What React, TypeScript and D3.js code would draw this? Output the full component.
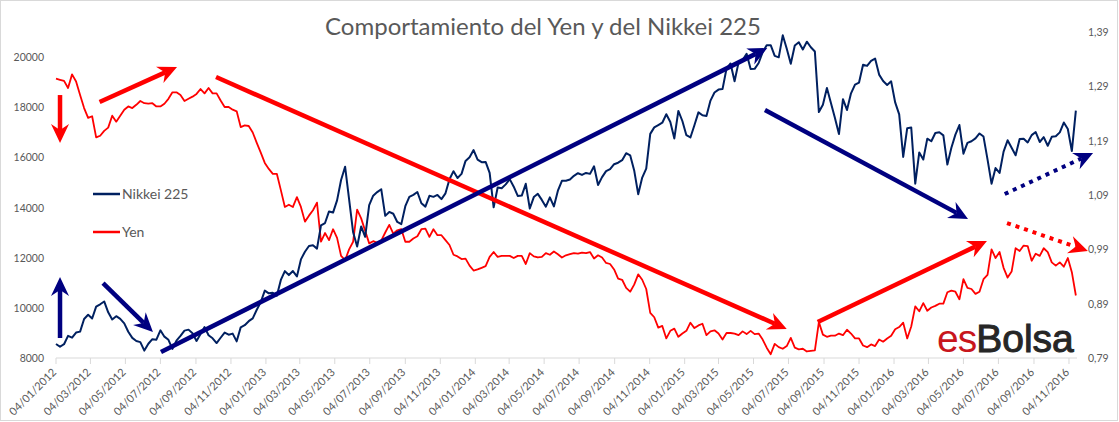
import * as d3 from 'd3';

const W = 1119;
const H = 422;

// weekly closes (Nikkei 225, left axis)
const nikkei2012 = [8560, 8448, 8550, 8883, 8809, 9015, 9052, 9554, 9723, 9576, 10050, 10141, 10255,
  9820, 9538, 9667, 9562, 9380, 9045, 8801, 8680, 8633, 8295, 8568, 8752, 8730, 9104, 8851, 8726,
  8365, 8695, 8881, 9092, 9131, 8984, 8680, 8959, 9232, 8906, 8786, 8596, 8807, 9014, 8928, 8972,
  8664, 9222, 9308, 9468, 9581, 9923, 10230];
const nikkei2013 = [10688, 10578, 10600, 10486, 11113, 11463, 11307, 11468, 11254, 11932, 12239,
  12468, 12493, 12362, 13288, 13382, 13844, 13799, 14285, 15096, 15627, 14326, 13014, 12445, 13245,
  12834, 14100, 14472, 14615, 14731, 13668, 13825, 13752, 13424, 13338, 14053, 14425, 14505, 14620,
  14170, 14037, 14467, 14426, 14502, 14337, 14567, 15126, 15450, 15177, 15341, 15859, 16009];
const nikkei2014 = [16291, 15908, 15808, 15820, 15383, 14008, 14800, 14766, 14924, 15134, 14830,
  14462, 14477, 14946, 13960, 14417, 14546, 14304, 14033, 14405, 14043, 14670, 15068, 15069, 15115,
  15266, 15369, 15302, 15379, 15343, 15646, 14900, 15213, 15454, 15534, 15728, 15788, 15888, 16167,
  16082, 15479, 14532, 15195, 15554, 16937, 17197, 17288, 17383, 17720, 17412, 16755, 17854, 17451];
const nikkei2015 = [16885, 16795, 17280, 17796, 17678, 17652, 18264, 18585, 18704, 18723, 19544,
  19746, 19034, 19790, 19886, 20133, 19520, 19531, 19764, 20196, 20473, 20473, 20046, 19990, 20868,
  20329, 19737, 20463, 20593, 20303, 20614, 20392, 20222, 17806, 18095, 18770, 18171, 17571, 16930,
  18322, 17891, 18554, 18903, 18983, 19697, 19649, 19847, 19939, 19301, 19049, 18886, 19033];
const nikkei2016 = [18191, 17715, 16017, 17163, 17191, 14952, 16196, 15915, 16746, 16642, 16974,
  17000, 16879, 15715, 16381, 16906, 17290, 16147, 16579, 16644, 16757, 16955, 16830, 15920, 14952,
  15575, 15379, 16231, 16681, 16383, 16083, 16735, 16745, 16597, 16887, 17012, 16614, 16807, 16465,
  16819, 16840, 16998, 17391, 17134, 16251, 17862];

// weekly Yen values (right axis)
const yen2012 = [1.304, 1.302, 1.3, 1.287, 1.312, 1.299, 1.274, 1.25, 1.232, 1.235, 1.196, 1.199,
  1.208, 1.214, 1.236, 1.225, 1.236, 1.247, 1.253, 1.25, 1.256, 1.263, 1.259, 1.258, 1.259, 1.253,
  1.253, 1.258, 1.267, 1.279, 1.279, 1.274, 1.263, 1.267, 1.271, 1.276, 1.285, 1.277, 1.287, 1.277,
  1.277, 1.264, 1.252, 1.252, 1.247, 1.244, 1.215, 1.218, 1.217, 1.205, 1.186, 1.168];
const yen2013 = [1.149, 1.138, 1.129, 1.129, 1.099, 1.068, 1.072, 1.068, 1.086, 1.068, 1.041, 1.052,
  1.062, 1.076, 1.004, 1.02, 1.007, 1.027, 1.011, 0.978, 0.97, 0.99, 1.004, 1.063, 1.047, 1.024,
  1.001, 1.005, 1.002, 1.006, 1.021, 1.035, 1.019, 1.025, 1.027, 1.004, 1.004, 1.01, 1.014, 1.027,
  1.028, 1.013, 1.027, 1.016, 1.016, 1.007, 0.998, 0.98, 0.977, 0.972, 0.973, 0.96];
const yen2014 = [0.951, 0.953, 0.956, 0.959, 0.976, 0.985, 0.976, 0.978, 0.978, 0.978, 0.974, 0.978,
  0.978, 0.963, 0.983, 0.977, 0.975, 0.976, 0.983, 0.98, 0.986, 0.981, 0.975, 0.979, 0.981, 0.983,
  0.982, 0.984, 0.983, 0.985, 0.973, 0.979, 0.975, 0.965, 0.963, 0.953, 0.936, 0.934, 0.919, 0.912,
  0.925, 0.944, 0.934, 0.917, 0.873, 0.865, 0.846, 0.849, 0.826, 0.84, 0.844, 0.829, 0.835];
const yen2015 = [0.84, 0.855, 0.845, 0.85, 0.853, 0.832, 0.839, 0.841, 0.835, 0.824, 0.836, 0.836,
  0.835, 0.832, 0.839, 0.834, 0.84, 0.834, 0.835, 0.824, 0.809, 0.797, 0.816, 0.81, 0.807, 0.812,
  0.827, 0.809, 0.806, 0.807, 0.802, 0.803, 0.804, 0.856, 0.833, 0.829, 0.831, 0.831, 0.835, 0.832,
  0.842, 0.835, 0.826, 0.826, 0.813, 0.81, 0.815, 0.812, 0.824, 0.82, 0.826, 0.831];
const yen2016 = [0.843, 0.847, 0.855, 0.826, 0.848, 0.885, 0.876, 0.891, 0.877, 0.883, 0.886, 0.89,
  0.89, 0.911, 0.914, 0.912, 0.898, 0.935, 0.919, 0.917, 0.908, 0.912, 0.935, 0.943, 0.99, 0.974,
  0.985, 0.956, 0.938, 0.949, 0.992, 0.987, 0.997, 0.996, 0.969, 0.982, 0.978, 0.992, 0.985, 0.966,
  0.96, 0.966, 0.958, 0.974, 0.948, 0.905];

const nikkei = [...nikkei2012, ...nikkei2013, ...nikkei2014, ...nikkei2015, ...nikkei2016];
const yen = [...yen2012, ...yen2013, ...yen2014, ...yen2015, ...yen2016];

const xTickLabels = [
  '04/01/2012', '04/03/2012', '04/05/2012', '04/07/2012', '04/09/2012', '04/11/2012',
  '04/01/2013', '04/03/2013', '04/05/2013', '04/07/2013', '04/09/2013', '04/11/2013',
  '04/01/2014', '04/03/2014', '04/05/2014', '04/07/2014', '04/09/2014', '04/11/2014',
  '04/01/2015', '04/03/2015', '04/05/2015', '04/07/2015', '04/09/2015', '04/11/2015',
  '04/01/2016', '04/03/2016', '04/05/2016', '04/07/2016', '04/09/2016', '04/11/2016',
];
const leftTicks = [8000, 10000, 12000, 14000, 16000, 18000, 20000];
const rightTicks = [0.79, 0.89, 0.99, 1.09, 1.19, 1.29, 1.39];

// hand-drawn arrows, in (date, Nikkei) coordinates
const arrows = [
  { from: ['2012-01-11', 18486], to: ['2012-01-11', 16572], color: '#ff0000', dotted: false },
  { from: ['2012-03-20', 18207], to: ['2012-08-02', 19602], color: '#ff0000', dotted: false },
  { from: ['2012-10-09', 19203], to: ['2015-07-01', 9156], color: '#ff0000', dotted: false },
  { from: ['2012-01-11', 8797], to: ['2012-01-11', 11229], color: '#000080', dotted: false },
  { from: ['2012-03-26', 10990], to: ['2012-06-21', 9037], color: '#000080', dotted: false },
  { from: ['2012-07-05', 8239], to: ['2015-05-28', 20360], color: '#000080', dotted: false },
  { from: ['2015-05-24', 17888], to: ['2016-05-12', 13542], color: '#000080', dotted: false },
  { from: ['2016-07-15', 14539], to: ['2016-12-16', 16173], color: '#000080', dotted: true },
  { from: ['2016-07-19', 13382], to: ['2016-12-07', 12266], color: '#ff0000', dotted: true },
  { from: ['2015-08-24', 9435], to: ['2016-06-14', 12665], color: '#ff0000', dotted: false },
] as { from: [string, number]; to: [string, number]; color: string; dotted: boolean }[];

const parse = d3.timeParse('%Y-%m-%d');
const parseTick = d3.timeParse('%d/%m/%Y');
const firstWeek = parse('2012-01-04')!;
const weeks = nikkei.map((_, i) => d3.timeDay.offset(firstWeek, 7 * i));

const x = d3.scaleTime().domain([parse('2012-01-04')!, parse('2016-11-18')!]).range([56, 1077]);
const yL = d3.scaleLinear().domain([8000, 21000]).range([358, 32]);
const yR = d3.scaleLinear().domain([0.79, 1.39]).range([358, 32]);

const nikkeiLine = d3.line<number>().x((_, i) => x(weeks[i])).y(d => yL(d));
const yenLine = d3.line<number>().x((_, i) => x(weeks[i])).y(d => yR(d));

const grey = '#595959';
const font = 'Lato, "Liberation Sans", sans-serif';
const fmtR = (v: number) => d3.format('.2f')(v).replace('.', ',');

function Arrow({ a }: { a: typeof arrows[number] }) {
  const x1 = x(parse(a.from[0])!), y1 = yL(a.from[1]);
  const x2 = x(parse(a.to[0])!), y2 = yL(a.to[1]);
  const ang = Math.atan2(y2 - y1, x2 - x1);
  const ux = Math.cos(ang), uy = Math.sin(ang);
  const px = -uy, py = ux;
  const len = 19, half = 9, notch = 13;
  const bx = x2 - ux * len, by = y2 - uy * len;
  const nx = x2 - ux * notch, ny = y2 - uy * notch;
  const head = `M${x2},${y2}L${bx + px * half},${by + py * half}L${nx},${ny}L${bx - px * half},${by - py * half}Z`;
  return (
    <g>
      <line x1={x1} y1={y1} x2={nx} y2={ny} stroke={a.color}
        strokeWidth={a.dotted ? 4 : 4.5} strokeDasharray={a.dotted ? '4 5' : undefined} />
      <path d={head} fill={a.color} />
    </g>
  );
}

export default function App() {
  return (
    <svg width={W} height={H} style={{ position: 'absolute', left: 0, top: 0, background: '#fff' }}>
      <rect x={0.5} y={0.5} width={W - 2} height={H - 2} fill="#fff" stroke="#d9d9d9" />
      <text x={543} y={35} textAnchor="middle" fontFamily={font} fontSize={24} fill={grey}>
        Comportamiento del Yen y del Nikkei 225
      </text>

      {/* x axis */}
      <line x1={x.range()[0]} x2={x.range()[1]} y1={358} y2={358} stroke="#d9d9d9" />
      {xTickLabels.map(t => {
        const tx = x(parseTick(t)!);
        return (
          <g key={t}>
            <line x1={tx} x2={tx} y1={358} y2={364} stroke="#d9d9d9" />
            <text transform={`translate(${tx + 1},${373}) rotate(-45)`} textAnchor="end"
              fontFamily={font} fontSize={11} fill={grey}>{t}</text>
          </g>
        );
      })}

      {/* y axes */}
      {leftTicks.map(v => (
        <text key={v} x={44} y={yL(v) + 4} textAnchor="end" fontFamily={font} fontSize={10.5} fill={grey}>{v}</text>
      ))}
      {rightTicks.map(v => (
        <text key={v} x={1088} y={yR(v) + 4} fontFamily={font} fontSize={10.5} fill={grey}>{fmtR(v)}</text>
      ))}

      {/* series */}
      <path d={yenLine(yen)!} fill="none" stroke="#ff0000" strokeWidth={1.8} strokeLinejoin="round" />
      <path d={nikkeiLine(nikkei)!} fill="none" stroke="#002060" strokeWidth={2} strokeLinejoin="round" />

      {arrows.map((a, i) => <Arrow key={i} a={a} />)}

      {/* legend */}
      <line x1={93} x2={120} y1={194} y2={194} stroke="#002060" strokeWidth={2.5} />
      <text x={122} y={199} fontFamily={font} fontSize={14} fill={grey}>Nikkei 225</text>
      <line x1={93} x2={120} y1={232} y2={232} stroke="#ff0000" strokeWidth={2.5} />
      <text x={122} y={237} fontFamily={font} fontSize={14} fill={grey}>Yen</text>

      {/* logo */}
      <text x={937} y={352} fontFamily='"Liberation Sans", Arial, sans-serif' fontSize={39}>
        <tspan fill="#c8161d" letterSpacing={-1}>es</tspan>
        <tspan fill="#262626" stroke="#262626" strokeWidth={1}>Bolsa</tspan>
      </text>
    </svg>
  );
}
